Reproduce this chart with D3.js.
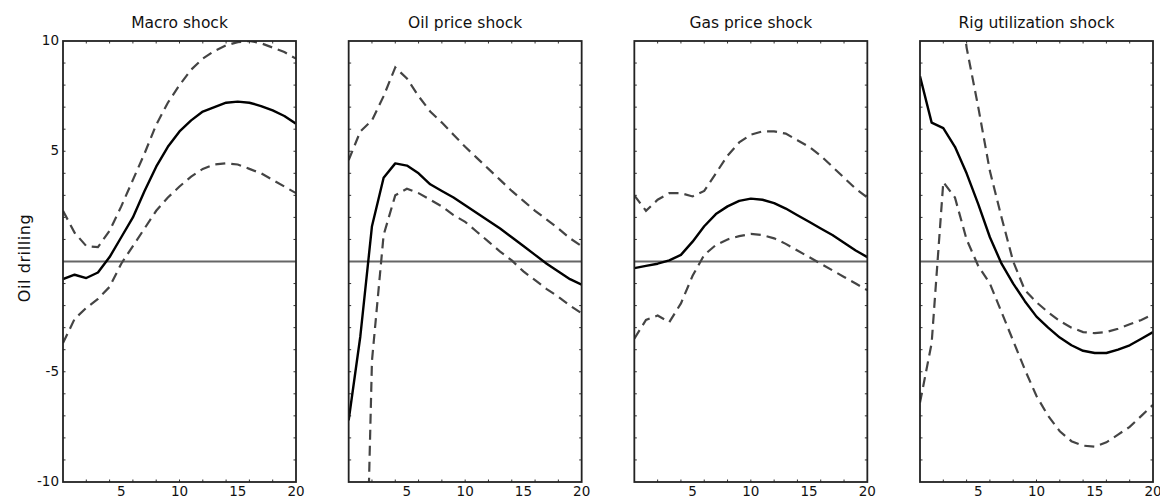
<!DOCTYPE html>
<html>
<head>
<meta charset="utf-8">
<script src="https://cdn.jsdelivr.net/npm/d3@7/dist/d3.min.js"></script>
<style>
  html, body { margin: 0; padding: 0; background: #fff; }
  svg { display: block; font-family: "DejaVu Sans", sans-serif; }
</style>
</head>
<body>
<svg id="chart" width="1160" height="498"></svg>
<script>
// Impulse responses of oil drilling to four structural shocks (horizon 0..20)
const horizons = d3.range(0, 21);
const panelTitles = ["Macro shock", "Oil price shock", "Gas price shock", "Rig utilization shock"];
const yTickLabels = [10, 5, -5, -10];
const xTickLabels = [5, 10, 15, 20];

const macroMedian = [-0.8, -0.6, -0.75, -0.5, 0.2, 1.1, 2.0, 3.2, 4.3, 5.2, 5.9, 6.4, 6.8, 7.0, 7.2, 7.25, 7.2, 7.05, 6.85, 6.6, 6.25];
const macroUpper  = [2.3, 1.3, 0.7, 0.65, 1.4, 2.5, 3.7, 4.9, 6.2, 7.2, 8.0, 8.7, 9.2, 9.55, 9.8, 9.95, 10.0, 9.9, 9.7, 9.5, 9.2];
const macroLower  = [-3.7, -2.6, -2.1, -1.7, -1.15, -0.1, 0.7, 1.5, 2.3, 2.9, 3.4, 3.85, 4.2, 4.4, 4.45, 4.4, 4.2, 4.0, 3.7, 3.4, 3.1];

const oilMedian = [-7.2, -3.4, 1.6, 3.8, 4.45, 4.35, 4.0, 3.5, 3.2, 2.9, 2.55, 2.2, 1.85, 1.5, 1.1, 0.7, 0.3, -0.1, -0.45, -0.8, -1.05];
const oilUpper  = [4.6, 5.9, 6.4, 7.5, 8.8, 8.3, 7.5, 6.8, 6.3, 5.75, 5.2, 4.7, 4.2, 3.7, 3.2, 2.75, 2.3, 1.9, 1.5, 1.05, 0.7];
const oilLower  = [-40, -26, -4.5, 1.2, 3.0, 3.3, 3.1, 2.8, 2.5, 2.1, 1.8, 1.35, 0.9, 0.45, 0.05, -0.45, -0.85, -1.25, -1.6, -2.0, -2.35];

const gasMedian = [-0.3, -0.2, -0.1, 0.05, 0.3, 0.9, 1.6, 2.15, 2.5, 2.75, 2.85, 2.8, 2.65, 2.4, 2.1, 1.8, 1.5, 1.2, 0.85, 0.5, 0.2];
const gasUpper  = [3.0, 2.3, 2.8, 3.1, 3.1, 2.95, 3.2, 4.0, 4.8, 5.4, 5.75, 5.9, 5.9, 5.8, 5.5, 5.2, 4.8, 4.3, 3.8, 3.3, 2.9];
const gasLower  = [-3.5, -2.65, -2.45, -2.75, -1.9, -0.65, 0.3, 0.75, 1.0, 1.15, 1.25, 1.2, 1.05, 0.8, 0.5, 0.2, -0.1, -0.4, -0.7, -1.0, -1.3];

const rigMedian = [8.4, 6.3, 6.05, 5.2, 4.0, 2.6, 1.1, -0.1, -1.0, -1.8, -2.5, -3.0, -3.45, -3.8, -4.05, -4.15, -4.15, -4.0, -3.8, -3.5, -3.2];
const rigUpper  = [22, 20, 18, 14, 9.7, 7.0, 4.1, 2.0, 0.0, -1.3, -1.85, -2.3, -2.7, -3.0, -3.2, -3.25, -3.2, -3.05, -2.85, -2.65, -2.4];
const rigLower  = [-6.4, -3.7, 3.6, 2.9, 1.0, -0.2, -1.0, -2.3, -3.6, -4.9, -6.1, -7.0, -7.7, -8.15, -8.35, -8.4, -8.2, -7.85, -7.5, -7.0, -6.5];

const panels = [
  { title: panelTitles[0], median: macroMedian, upper: macroUpper, lower: macroLower },
  { title: panelTitles[1], median: oilMedian,   upper: oilUpper,   lower: oilLower },
  { title: panelTitles[2], median: gasMedian,   upper: gasUpper,   lower: gasLower },
  { title: panelTitles[3], median: rigMedian,   upper: rigUpper,   lower: rigLower }
];

const svg = d3.select("#chart");
const plotTop = 41, plotBottom = 482;
const firstLeft = 63, panelWidth = 233, panelStep = (920 - 63) / 3;

const y = d3.scaleLinear().domain([-10, 10]).range([plotBottom, plotTop]);

// shared y-axis title
svg.append("text")
  .attr("transform", `translate(25,258) rotate(-90)`)
  .attr("text-anchor", "middle")
  .attr("dominant-baseline", "middle")
  .attr("font-size", 16)
  .attr("letter-spacing", 0.6)
  .attr("fill", "#111")
  .text("Oil drilling");

panels.forEach((p, i) => {
  const left = firstLeft + i * panelStep;
  const x = d3.scaleLinear().domain([0, 20]).range([left, left + panelWidth]);
  const g = svg.append("g");

  const clipId = "clip" + i;
  svg.append("clipPath").attr("id", clipId)
    .append("rect")
    .attr("x", left).attr("y", plotTop)
    .attr("width", panelWidth).attr("height", plotBottom - plotTop);

  // title
  g.append("text")
    .attr("x", left + panelWidth / 2)
    .attr("y", 28)
    .attr("text-anchor", "middle")
    .attr("font-size", 15.5)
    .attr("fill", "#111")
    .text(p.title);

  // minor ticks, pointing inward on all four sides
  const xMinor = d3.range(2, 20, 2);
  const yMinor = d3.range(-9, 10, 1);
  const tickLen = 2.5;
  const ticks = g.append("g").attr("stroke", "#333").attr("stroke-width", 1);
  xMinor.forEach(t => {
    ticks.append("line").attr("x1", x(t)).attr("x2", x(t)).attr("y1", plotTop).attr("y2", plotTop + tickLen);
    ticks.append("line").attr("x1", x(t)).attr("x2", x(t)).attr("y1", plotBottom).attr("y2", plotBottom - tickLen);
  });
  yMinor.forEach(v => {
    ticks.append("line").attr("x1", left).attr("x2", left + tickLen).attr("y1", y(v)).attr("y2", y(v));
    ticks.append("line").attr("x1", left + panelWidth).attr("x2", left + panelWidth - tickLen).attr("y1", y(v)).attr("y2", y(v));
  });

  // zero reference line
  g.append("line")
    .attr("x1", left).attr("x2", left + panelWidth)
    .attr("y1", y(0)).attr("y2", y(0))
    .attr("stroke", "#666").attr("stroke-width", 2);

  const line = d3.line().x((d, k) => x(horizons[k])).y(d => y(d));
  const lines = g.append("g").attr("clip-path", `url(#${clipId})`).attr("fill", "none");

  [p.upper, p.lower].forEach(band => {
    lines.append("path")
      .attr("d", line(band))
      .attr("stroke", "#444")
      .attr("stroke-width", 2.2)
      .attr("stroke-dasharray", "10,6");
  });
  lines.append("path")
    .attr("d", line(p.median))
    .attr("stroke", "#000")
    .attr("stroke-width", 2.4)
    .attr("stroke-linejoin", "round");

  // frame
  g.append("rect")
    .attr("x", left).attr("y", plotTop)
    .attr("width", panelWidth).attr("height", plotBottom - plotTop)
    .attr("fill", "none").attr("stroke", "#222").attr("stroke-width", 1.8);

  // x tick labels
  xTickLabels.forEach(t => {
    g.append("text")
      .attr("x", x(t)).attr("y", 496)
      .attr("text-anchor", "middle")
      .attr("font-size", 13.5)
      .attr("fill", "#111")
      .text(t);
  });

  // y tick labels on the first panel only
  if (i === 0) {
    yTickLabels.forEach(v => {
      g.append("text")
        .attr("x", left - 4).attr("y", y(v))
        .attr("text-anchor", "end")
        .attr("dominant-baseline", "middle")
        .attr("font-size", 13.5)
        .attr("fill", "#111")
        .text(v);
    });
  }
});
</script>
</body>
</html>
